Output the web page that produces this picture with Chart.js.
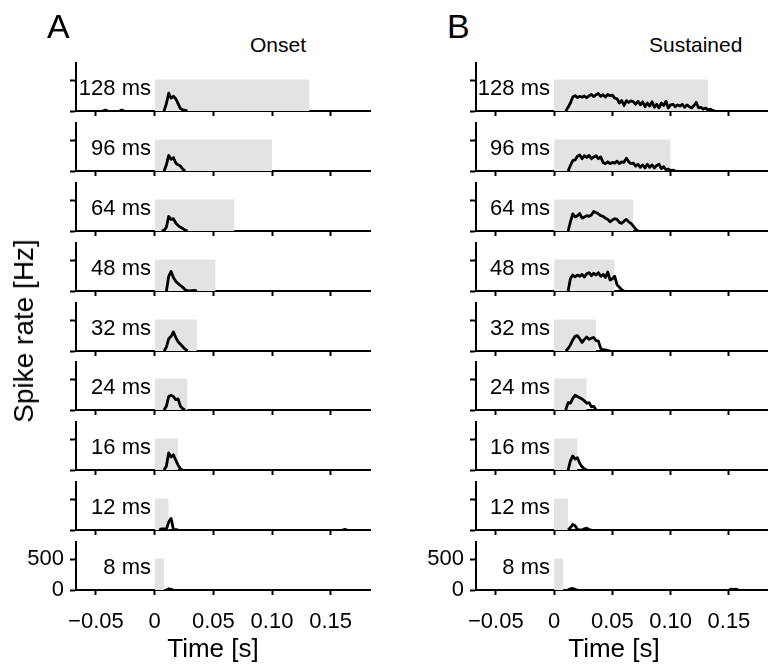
<!DOCTYPE html>
<html>
<head>
<meta charset="utf-8">
<script src="https://cdn.jsdelivr.net/npm/chart.js@4.4.1/dist/chart.umd.min.js"></script>
<style>
  body { margin: 0; background: #fff; }
  #fig { position: relative; width: 768px; height: 666px; overflow: hidden; font-family: "Liberation Sans", Arial, sans-serif; color: #000; }
  #fig canvas { position: absolute; }
  .txt { position: absolute; line-height: 1; white-space: nowrap; }
</style>
</head>
<body>
<div id="fig"></div>
<script>
// Data definitions
const durationsMs = [128, 96, 64, 48, 32, 24, 16, 12, 8];
// end of the grey stimulus box (s)
const stimEnd = [0.132, 0.100, 0.068, 0.052, 0.036, 0.028, 0.020, 0.012, 0.008];
const stimLevel = 515;
const binWidth = 0.002;
const xTickValues = [-0.05, 0, 0.05, 0.10, 0.15];
const xTickLabels = ['\u22120.05', '0', '0.05', '0.10', '0.15'];
const yTickValues = [0, 500];

// PSTH islands per panel: [start time (s), rates (Hz) in 2 ms bins]
const onsetTraces = [
  [[-0.044, [0, 15, 0]], [-0.030, [0, 15, 0]], [0.008, [0, 120, 290, 210, 240, 200, 120, 40, 20, 10, 0]]],
  [[0.008, [0, 100, 255, 190, 220, 130, 100, 80, 30, 0]]],
  [[0.006, [0, 10, 60, 240, 190, 200, 130, 90, 60, 40, 15, 0]]],
  [[0.010, [0, 240, 320, 220, 160, 120, 90, 60, 20, 5, 0, 5, 10, 0]]],
  [[0.008, [0, 60, 200, 240, 310, 220, 150, 110, 70, 30, 0]]],
  [[0.008, [0, 60, 220, 240, 220, 170, 180, 60, 20, 0]]],
  [[0.008, [0, 60, 280, 210, 250, 160, 80, 15, 0]]],
  [[0.004, [0, 20, 20, 10, 130, 190, 10, 5, 0]], [0.160, [0, 10, 0]]],
  [[0.010, [0, 20, 10, 0]]]
];

const sustainedTraces = [
  [[0.010, [0, 60, 130, 230, 250, 220, 240, 225, 245, 215, 250, 270, 235, 265, 285, 240, 265, 230, 270, 250,
            260, 210, 200, 130, 170, 90, 170, 140, 165, 150, 110, 160, 100, 150, 70, 130, 80, 150, 60, 110,
            50, 130, 90, 160, 50, 100, 110, 70, 100, 80, 110, 60, 100, 70, 50, 90, 140, 50, 60, 30,
            50, 15, 30, 10, 0]]],
  [[0.012, [0, 90, 170, 180, 240, 260, 200, 250, 220, 255, 200, 230, 250, 200, 230, 140, 120, 150, 120, 140,
            130, 160, 120, 150, 140, 210, 150, 120, 130, 80, 110, 60, 100, 50, 110, 60, 100, 50, 90, 110,
            40, 70, 20, 30, 10, 15, 0]]],
  [[0.012, [0, 150, 280, 230, 250, 285, 210, 230, 250, 240, 260, 320, 300, 280, 250, 240, 210, 190, 150, 180,
            200, 190, 140, 125, 160, 190, 150, 125, 80, 30, 0]]],
  [[0.012, [0, 200, 260, 230, 260, 240, 270, 230, 280, 300, 250, 290, 260, 300, 240, 270, 220, 310, 180, 200,
            240, 100, 60, 20, 0]]],
  [[0.010, [0, 40, 100, 180, 240, 250, 200, 140, 190, 230, 190, 210, 220, 170, 160, 40, 20, 20, 5, 0]]],
  [[0.010, [0, 120, 110, 190, 240, 220, 200, 180, 150, 110, 120, 50, 60, 0]]],
  [[0.012, [0, 150, 230, 180, 200, 110, 50, 20, 0]]],
  [[0.012, [0, 40, 90, 70, 10, 0, 0, 20, 30, 5, 0]]],
  [[0.012, [0, 20, 25, 10, 0]], [0.150, [0, 15, 5, 15, 0]]]
];

// Layout
const xMin = -0.067, xMax = 0.1835, yMax = 800;
const firstAxisY = 111, rowPitch = 59.875, plotH = 49;
const columns = [
  { traces: onsetTraces, canvasLeft: 0, width: 372, padRight: 2, labelRight: 151 },
  { traces: sustainedTraces, canvasLeft: 400, width: 368, padRight: 0, labelRight: 550 }
];

Chart.defaults.font.family = '"Liberation Sans", Arial, sans-serif';
Chart.defaults.color = '#000';

const fig = document.getElementById('fig');

function addText(str, css) {
  const d = document.createElement('div');
  d.className = 'txt';
  d.textContent = str;
  Object.assign(d.style, css);
  fig.appendChild(d);
  return d;
}

// islands become one series, with a null gap between them
function traceToPoints(trace) {
  const pts = [];
  trace.forEach(([start, rates], k) => {
    if (k > 0) pts.push({ x: start - binWidth / 2, y: null });
    rates.forEach((v, i) => pts.push({ x: start + i * binWidth, y: v }));
  });
  return pts;
}

function panelConfig(trace, end, isBottom, padRight) {
  return {
    type: 'line',
    data: {
      datasets: [{
        data: traceToPoints(trace),
        borderColor: '#000',
        borderWidth: 2.8,
        borderJoinStyle: 'round',
        pointRadius: 0,
        tension: 0,
        spanGaps: false,
        order: 0
      }, {
        data: [{ x: 0, y: stimLevel }, { x: end, y: stimLevel }],
        fill: 'origin',
        backgroundColor: '#e3e3e3',
        borderWidth: 0,
        pointRadius: 0,
        order: 1
      }]
    },
    options: {
      responsive: false,
      animation: false,
      events: [],
      layout: { padding: { top: 0, right: padRight, bottom: 0, left: 0 } },
      plugins: { legend: { display: false }, tooltip: { enabled: false } },
      scales: {
        x: {
          type: 'linear',
          min: xMin,
          max: xMax,
          afterBuildTicks: s => { s.ticks = xTickValues.map(v => ({ value: v })); },
          afterFit: s => { s.height = isBottom ? 50 : 10; s.paddingLeft = 0; s.paddingRight = 0; },
          ticks: {
            display: isBottom,
            autoSkip: false,
            maxRotation: 0,
            padding: 14,
            font: { size: 22 },
            color: '#000',
            callback: (v, i) => xTickLabels[i]
          },
          grid: { drawOnChartArea: false, drawTicks: true, tickLength: 5, tickWidth: 2, tickColor: '#000' },
          border: { display: true, color: '#000', width: 2 }
        },
        y: {
          type: 'linear',
          min: 0,
          max: yMax,
          afterBuildTicks: s => { s.ticks = yTickValues.map(v => ({ value: v })); },
          afterFit: s => { s.width = 76; s.paddingTop = 0; s.paddingBottom = 0; },
          ticks: {
            display: isBottom,
            padding: 6,
            font: { size: 22 },
            color: '#000',
            callback: v => String(v)
          },
          grid: { drawOnChartArea: false, drawTicks: true, tickLength: 6, tickWidth: 2, tickColor: '#000' },
          border: { display: true, color: '#000', width: 2 }
        }
      }
    }
  };
}

// Initialize all panels
const charts = [];
columns.forEach(col => {
  durationsMs.forEach((d, r) => {
    const axisY = firstAxisY + r * rowPitch;
    const isBottom = r === durationsMs.length - 1;
    const cv = document.createElement('canvas');
    cv.width = col.width;
    cv.height = plotH + (isBottom ? 50 : 10);
    cv.style.left = col.canvasLeft + 'px';
    cv.style.top = Math.round(axisY - plotH) + 'px';
    fig.appendChild(cv);
    charts.push(new Chart(cv.getContext('2d'), panelConfig(col.traces[r], stimEnd[r], isBottom, col.padRight)));

    addText(d + ' ms', {
      left: '0px', width: col.labelRight + 'px', textAlign: 'right',
      top: (axisY - 34) + 'px', fontSize: '22px'
    });
  });
});

// Panel letters, titles and axis titles
addText('A', { left: '47px', top: '9px', fontSize: '34px' });
addText('B', { left: '447px', top: '9px', fontSize: '34px' });
addText('Onset', { left: '250px', top: '34px', fontSize: '21px' });
addText('Sustained', { left: '649px', top: '34px', fontSize: '21px' });
addText('Time [s]', { left: '213px', top: '635px', fontSize: '26px', transform: 'translateX(-50%)' });
addText('Time [s]', { left: '614px', top: '635px', fontSize: '26px', transform: 'translateX(-50%)' });
addText('Spike rate [Hz]', { left: '24px', top: '331px', fontSize: '28px', transform: 'translate(-50%, -50%) rotate(-90deg)' });
</script>
</body>
</html>
